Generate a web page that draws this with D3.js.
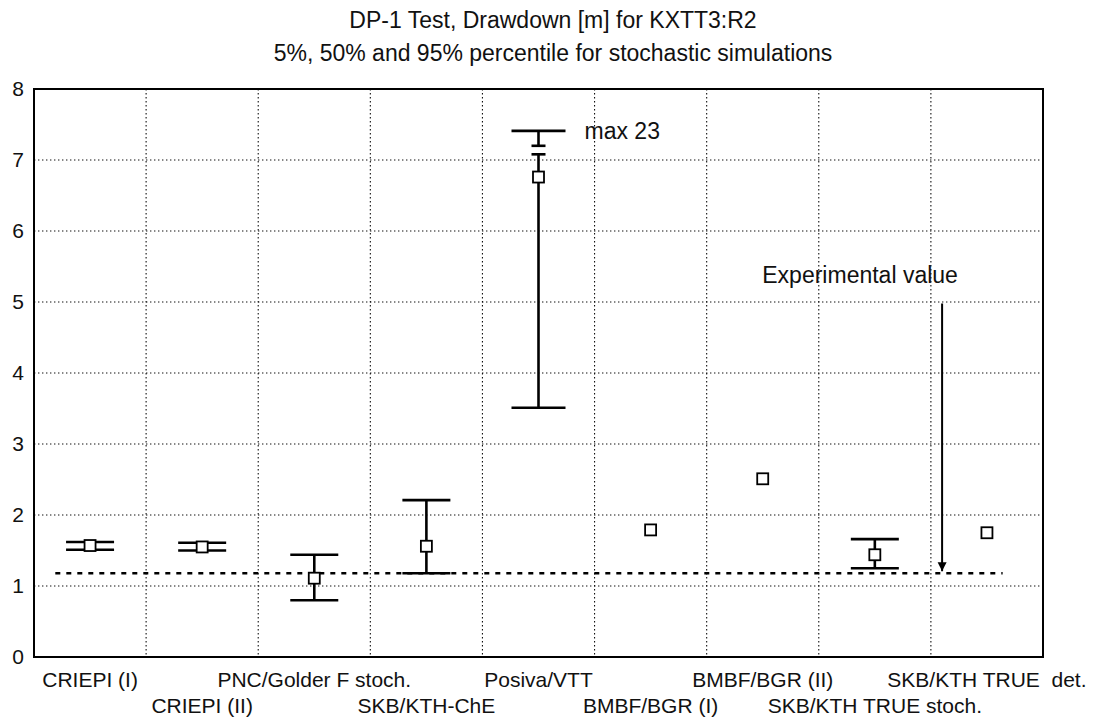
<!DOCTYPE html>
<html>
<head>
<meta charset="utf-8">
<script src="https://cdn.jsdelivr.net/npm/d3@7"></script>
<style>
  body { margin: 0; background: #fff; }
  text { font-family: Arial, "Liberation Sans", sans-serif; fill: #111; }
</style>
</head>
<body>
<div id="wrapper"></div>
<script>
// data
const models = ["CRIEPI (I)", "CRIEPI (II)", "PNC/Golder F stoch.", "SKB/KTH-ChE",
  "Posiva/VTT", "BMBF/BGR (I)", "BMBF/BGR (II)", "SKB/KTH TRUE stoch.", "SKB/KTH TRUE\u00a0\u00a0det."]
const labelRow = [0, 1, 0, 1, 0, 1, 0, 1, 0]
const p50 = [1.57, 1.55, 1.11, 1.56, 6.76, 1.79, 2.51, 1.44, 1.75]
const p5 = [1.51, 1.50, 0.80, 1.18, 3.51, null, null, 1.25, null]
const p95 = [1.62, 1.61, 1.44, 2.21, 7.41, null, null, 1.66, null]
// Posiva 95% is off scale (max 23): whisker is broken between these values
const breakIndex = 4
const breakLow = 7.08
const breakHigh = 7.20
const breakLabel = "max 23"
const experimental = 1.18
const expLineFrom = 0.19
const expLineTo = 8.64
const arrowX = 8.1
const arrowTop = 4.98
const expLabel = "Experimental value"
const yTicks = [0, 1, 2, 3, 4, 5, 6, 7, 8]
const title = "DP-1 Test, Drawdown [m] for KXTT3:R2"
const subtitle = "5%, 50% and 95% percentile for stochastic simulations"

const dimensions = {
  width: 1106,
  height: 725,
  margin: { top: 89, right: 63, bottom: 68, left: 34 },
}
dimensions.boundedWidth = dimensions.width - dimensions.margin.left - dimensions.margin.right
dimensions.boundedHeight = dimensions.height - dimensions.margin.top - dimensions.margin.bottom

const wrapper = d3.select("#wrapper")
  .append("svg")
    .attr("width", dimensions.width)
    .attr("height", dimensions.height)

wrapper.append("text")
    .attr("x", 553).attr("y", 28)
    .attr("text-anchor", "middle")
    .style("font-size", "23px")
    .text(title)
wrapper.append("text")
    .attr("x", 553).attr("y", 61)
    .attr("text-anchor", "middle")
    .style("font-size", "23px")
    .text(subtitle)

const bounds = wrapper.append("g")
    .attr("transform", `translate(${dimensions.margin.left},${dimensions.margin.top})`)

const xScale = d3.scaleLinear()
    .domain([0, models.length])
    .range([0, dimensions.boundedWidth])
const yScale = d3.scaleLinear()
    .domain([0, 8])
    .range([dimensions.boundedHeight, 0])
const xc = i => xScale(i + 0.5)

// grid
bounds.append("g")
  .selectAll("line")
  .data(d3.range(1, models.length))
  .join("line")
    .attr("x1", d => xScale(d)).attr("x2", d => xScale(d))
    .attr("y1", 0).attr("y2", dimensions.boundedHeight)
    .attr("stroke", "#111").attr("stroke-width", 1.1)
    .attr("stroke-dasharray", "1.4,2.6")
bounds.append("g")
  .selectAll("line")
  .data(yTicks.slice(1, -1))
  .join("line")
    .attr("x1", 0).attr("x2", dimensions.boundedWidth)
    .attr("y1", d => yScale(d)).attr("y2", d => yScale(d))
    .attr("stroke", "#111").attr("stroke-width", 1.1)
    .attr("stroke-dasharray", "1.4,2.6")

// frame
bounds.append("rect")
    .attr("width", dimensions.boundedWidth)
    .attr("height", dimensions.boundedHeight)
    .attr("fill", "none")
    .attr("stroke", "#000")
    .attr("stroke-width", 2)

// y axis labels
const yAxis = bounds.append("g")
    .call(d3.axisLeft(yScale).tickValues(yTicks).tickSize(0).tickPadding(10).tickFormat(d3.format("d")))
yAxis.select(".domain").remove()
yAxis.selectAll("text")
    .style("font-size", "21px")
    .attr("font-family", null)

// x labels in two rows
bounds.append("g")
  .selectAll("text")
  .data(models)
  .join("text")
    .attr("x", (d, i) => xc(i))
    .attr("y", (d, i) => dimensions.boundedHeight + 30 + labelRow[i] * 26)
    .attr("text-anchor", "middle")
    .style("font-size", "21px")
    .text(d => d)

// experimental value line + arrow
bounds.append("line")
    .attr("x1", xScale(expLineFrom)).attr("x2", xScale(expLineTo))
    .attr("y1", yScale(experimental)).attr("y2", yScale(experimental))
    .attr("stroke", "#000").attr("stroke-width", 2.5)
    .attr("stroke-dasharray", "5,6")

const defs = wrapper.append("defs")
defs.append("marker")
    .attr("id", "arrow")
    .attr("viewBox", "0 0 10 10")
    .attr("refX", 10).attr("refY", 5)
    .attr("markerWidth", 9).attr("markerHeight", 14)
    .attr("markerUnits", "userSpaceOnUse")
    .attr("orient", "auto")
  .append("path")
    .attr("d", "M0,0 L10,5 L0,10 Z")
    .attr("fill", "#000")

bounds.append("line")
    .attr("x1", xScale(arrowX)).attr("x2", xScale(arrowX))
    .attr("y1", yScale(arrowTop)).attr("y2", yScale(experimental) - 2)
    .attr("stroke", "#000").attr("stroke-width", 2)
    .attr("marker-end", "url(#arrow)")

bounds.append("text")
    .attr("x", xScale(arrowX) - 82)
    .attr("y", yScale(arrowTop) - 20)
    .attr("text-anchor", "middle")
    .style("font-size", "23px")
    .text(expLabel)

// whiskers
const capW = 48
const shortCapW = 14
const whiskers = bounds.append("g")
    .attr("stroke", "#000")
    .attr("stroke-width", 2.6)

models.forEach((m, i) => {
  if (p5[i] == null) return
  const x = xc(i)
  if (i === breakIndex) {
    whiskers.append("line")
        .attr("x1", x).attr("x2", x)
        .attr("y1", yScale(p5[i])).attr("y2", yScale(breakLow))
    whiskers.append("line")
        .attr("x1", x).attr("x2", x)
        .attr("y1", yScale(breakHigh)).attr("y2", yScale(p95[i]))
    ;[breakLow, breakHigh].forEach(v => {
      whiskers.append("line")
          .attr("x1", x - shortCapW / 2).attr("x2", x + shortCapW / 2)
          .attr("y1", yScale(v)).attr("y2", yScale(v))
    })
    bounds.append("text")
        .attr("x", x + 46)
        .attr("y", yScale(p95[i]) + 8)
        .style("font-size", "23px")
        .text(breakLabel)
  } else {
    whiskers.append("line")
        .attr("x1", x).attr("x2", x)
        .attr("y1", yScale(p5[i])).attr("y2", yScale(p95[i]))
  }
  const w = i === breakIndex ? capW + 6 : capW
  ;[p5[i], p95[i]].forEach(v => {
    whiskers.append("line")
        .attr("x1", x - w / 2).attr("x2", x + w / 2)
        .attr("y1", yScale(v)).attr("y2", yScale(v))
  })
})

// median markers
const boxSize = 11
bounds.append("g")
  .selectAll("rect")
  .data(p50)
  .join("rect")
    .attr("x", (d, i) => xc(i) - boxSize / 2)
    .attr("y", d => yScale(d) - boxSize / 2)
    .attr("width", boxSize)
    .attr("height", boxSize)
    .attr("fill", "#fff")
    .attr("stroke", "#000")
    .attr("stroke-width", 1.8)
</script>
</body>
</html>
